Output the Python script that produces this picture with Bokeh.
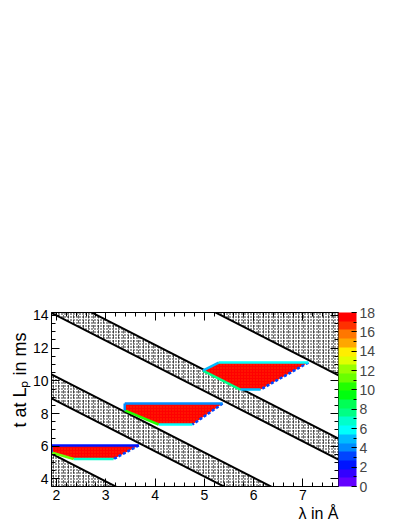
import colorsys
import numpy as np
from bokeh.plotting import figure
from bokeh.models import (Range1d, LinearAxis, ColorBar, LinearColorMapper,
                          FixedTicker, Title, ColumnDataSource)
from bokeh.transform import linear_cmap
from bokeh.embed import file_html
from bokeh.resources import INLINE

# ---------------- data ----------------
x_lim = [1.9, 7.72]          # lambda in Angstrom
y_lim = [3.54, 14.18]        # t in ms
x_ticks = [2, 3, 4, 5, 6, 7]
y_ticks = [4, 6, 8, 10, 12, 14]
z_ticks = [0, 2, 4, 6, 8, 10, 12, 14, 16, 18]
z_low, z_high, n_levels = 0, 18, 20

# forbidden (stippled) bands: edge lines given by t at lambda = 1.5 and lambda = 8.0
band_lambda = [1.5, 8.0]
band_top_t_left = [37.69, 16.05, 11.01, 6.16]
band_top_t_right = [27.68, 6.04, 1.00, -3.85]
band_bot_t_left = [19.92, 14.77, 9.54, -2.31]
band_bot_t_right = [9.91, 4.76, -0.47, -12.32]

# filled histogram regions (vertices: top-left, top-right, bottom-right, bottom-left, left)
region_lambda = [[1.9, 3.67, 3.16, 2.35, 1.9],
                 [3.385, 5.37, 4.76, 4.07, 3.385],
                 [5.29, 7.11, 6.14, 5.73, 4.97]]
region_t = [[6.05, 6.05, 5.22, 5.22, 5.62],
            [8.61, 8.61, 7.33, 7.33, 8.19],
            [11.12, 11.12, 9.47, 9.47, 10.63]]
region_fill_value = [17.5, 17.5, 17.5]
region_speckle_value = [17.0, 17.0, 17.0]
edge_top_value = [2.5, 4.0, 6.0]
edge_right_value = [3.0, 3.0, 3.0]
edge_bottom_value = [7.0, 6.0, 5.0]
edge_lowerleft_value = [11.0, 10.0, 8.0]
edge_left_value = [3.0, 4.0, 5.0]

# ---------------- palette (ROOT pretty palette, 20 contours) ----------------
pal50 = []
for i in range(50):
    h = 280.0 - (i + 1) * (280.0 / 50)
    r, g, b = colorsys.hls_to_rgb(h / 360.0, 0.5, 1.0)
    pal50.append("#%02x%02x%02x" % (round(r * 255), round(g * 255), round(b * 255)))
palette = [pal50[int((k + 0.99) * 50 / n_levels)] for k in range(n_levels)]
mapper = LinearColorMapper(palette=palette, low=z_low, high=z_high)

FONT = "Liberation Sans"

W, H = 395, 521
p = figure(width=W, height=H, x_range=Range1d(*x_lim), y_range=Range1d(*y_lim),
           output_backend="svg", toolbar_location=None,
           min_border_left=51, min_border_right=W - 338, min_border_top=312,
           min_border_bottom=H - 486)
p.grid.visible = False
p.outline_line_color = "black"
p.outline_line_width = 1
p.background_fill_color = "white"
p.border_fill_color = "white"

x_minor = [round(v, 2) for v in np.arange(1.0, 8.01, 0.2)]
y_minor = [round(v, 2) for v in np.arange(3.0, 15.01, 0.5)]
z_minor = list(range(0, 19))

for ax in p.xaxis:
    ax.ticker = FixedTicker(ticks=x_ticks, minor_ticks=x_minor)
for ax in p.yaxis:
    ax.ticker = FixedTicker(ticks=y_ticks, minor_ticks=y_minor)
for ax in p.axis:
    ax.major_tick_in = 8
    ax.major_tick_out = 0
    ax.minor_tick_in = 4
    ax.minor_tick_out = 0
    ax.major_label_text_font = FONT
    ax.major_label_text_font_size = "14px"
    ax.major_label_text_color = "black"
    ax.axis_line_color = "black"
    ax.major_tick_line_color = "black"
    ax.minor_tick_line_color = "black"
p.xaxis.major_label_standoff = 3
p.yaxis.major_label_standoff = 3

# mirrored axes (ticks only, no labels)
ax_top = LinearAxis(ticker=FixedTicker(ticks=x_ticks, minor_ticks=x_minor),
                    major_label_overrides={t: "" for t in x_ticks},
                    major_label_text_color=None, major_label_standoff=0,
                    major_tick_in=8, major_tick_out=0, minor_tick_in=4, minor_tick_out=0)
p.add_layout(ax_top, "above")
ax_right = LinearAxis(ticker=FixedTicker(ticks=y_ticks, minor_ticks=y_minor),
                      major_label_overrides={t: "" for t in y_ticks},
                      major_label_text_color=None, major_label_standoff=0,
                      major_tick_in=8, major_tick_out=0, minor_tick_in=4, minor_tick_out=0)
p.add_layout(ax_right, "right")

# ---------------- stippled bands ----------------
bx, by, lx, ly = [], [], [], []
for i in range(len(band_top_t_left)):
    bx.append([band_lambda[0], band_lambda[1], band_lambda[1], band_lambda[0]])
    by.append([band_top_t_left[i], band_top_t_right[i], band_bot_t_right[i], band_bot_t_left[i]])
    lx += [band_lambda, band_lambda]
    ly += [[band_top_t_left[i], band_top_t_right[i]], [band_bot_t_left[i], band_bot_t_right[i]]]
p.patches(bx, by, fill_color="white", line_color=None,
          hatch_pattern="dot", hatch_color="black", hatch_scale=3, hatch_weight=2.4)
p.patches(bx, by, fill_color=None, line_color=None,
          hatch_pattern="vertical_dash", hatch_color="black", hatch_scale=5, hatch_weight=1,
          hatch_alpha=0.6)
p.multi_line(lx, ly, line_color="black", line_width=2)

# ---------------- histogram regions ----------------
src = ColumnDataSource(dict(xs=region_lambda, ys=region_t, v=region_fill_value,
                            v2=region_speckle_value))
p.patches("xs", "ys", source=src, fill_color=linear_cmap("v", palette, z_low, z_high),
          line_color=None, hatch_pattern="dot", hatch_scale=3, hatch_weight=1.5,
          hatch_color=palette[int(region_speckle_value[0] / (z_high - z_low) * n_levels)])

def edge(i0, i1, vals, dash):
    xs = [[rl[i0], rl[i1]] for rl in region_lambda]
    ys = [[rt[i0], rt[i1]] for rt in region_t]
    s = ColumnDataSource(dict(xs=xs, ys=ys, v=vals))
    p.multi_line("xs", "ys", source=s, line_width=2.5, line_dash=dash,
                 line_color=linear_cmap("v", palette, z_low, z_high))

edge(2, 3, edge_bottom_value, "solid")
edge(3, 4, edge_lowerleft_value, "solid")
edge(4, 0, edge_left_value, "solid")
edge(1, 2, edge_right_value, "3 2")
edge(0, 1, edge_top_value, "solid")

# ---------------- colour bar ----------------
cb = ColorBar(color_mapper=mapper, width=18, padding=0, margin=0,
              ticker=FixedTicker(ticks=z_ticks, minor_ticks=z_minor),
              label_standoff=3, major_label_text_font=FONT,
              major_label_text_font_size="14px",
              major_tick_in=5, major_tick_out=0, minor_tick_in=3, minor_tick_out=0,
              major_tick_line_color="black", minor_tick_line_color="black",
              bar_line_color=None, border_line_color=None,
              background_fill_color=None)
p.add_layout(cb, "right")

# ---------------- axis titles ----------------
p.add_layout(Title(text="t at L\u209a in ms", align="right", offset=20, standoff=0,
                   text_font=FONT, text_font_size="18px", text_font_style="normal",
                   text_color="black"), "left")
p.add_layout(Title(text="\u03bb in \u00c5", align="right", standoff=0,
                   text_font=FONT, text_font_size="16px", text_font_style="normal",
                   text_color="black"), "below")

open("out.html", "w").write(file_html(p, INLINE))
